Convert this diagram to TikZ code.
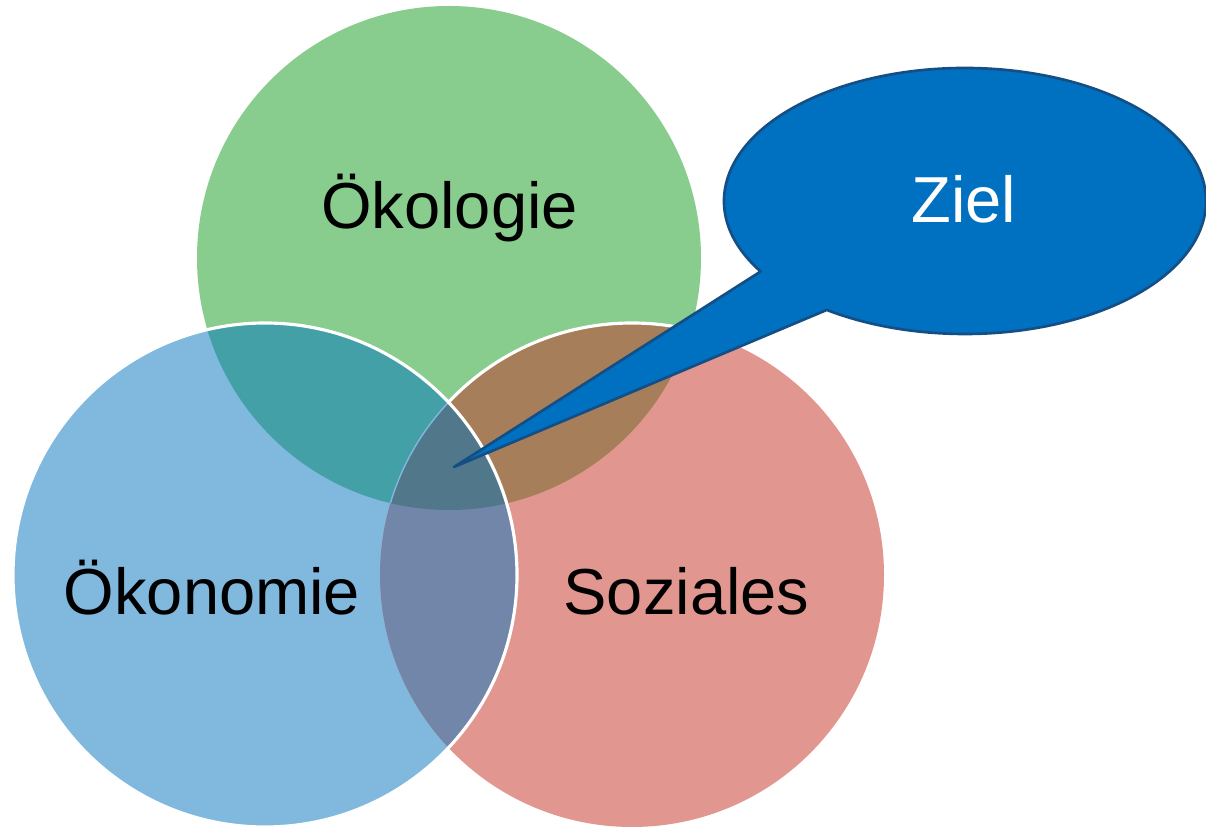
\documentclass[tikz,border=0pt]{standalone}
\usepackage{fontspec}
\setmainfont{Liberation Sans}
\usetikzlibrary{calc}
\definecolor{oekogreen}{RGB}{136,204,142}
\definecolor{oekoblue}{RGB}{128,184,222}
\definecolor{sozred}{RGB}{225,151,143}
\definecolor{greenblue}{RGB}{67,160,166}
\definecolor{greenred}{RGB}{166,127,90}
\definecolor{bluered}{RGB}{113,134,168}
\definecolor{allthree}{RGB}{81,120,138}
\definecolor{zielfill}{RGB}{0,112,192}
\definecolor{zieldraw}{RGB}{20,78,132}
\newcommand{\crad}{5.04}
\begin{document}
\begin{tikzpicture}[font=\fontsize{37}{41}\selectfont, line join=round, line cap=round, rim/.style={draw=white, line width=1.8pt}]
	\path (8.98,11.40) coordinate (G)
	(5.30,5.06) coordinate (B)
	(12.64,5.06) coordinate (R)
	(19.30,12.54) coordinate (Z)
	(9.08,7.22) coordinate (tip);
	\useasboundingbox (0,0) rectangle (24.12,16.56);
	\fill[oekogreen] (G) circle (\crad);
	\fill[oekoblue] (B) circle (\crad);
	\fill[sozred] (R) circle (\crad);
	\begin{scope}
		\clip (G) circle (\crad);
		\fill[greenblue] (B) circle (\crad);
		\fill[greenred] (R) circle (\crad);
	\end{scope}
	\begin{scope}
		\clip (B) circle (\crad);
		\fill[bluered] (R) circle (\crad);
		\clip (G) circle (\crad);
		\fill[allthree] (R) circle (\crad);
		\draw[oekoblue, line width=0.8pt] (R) circle (\crad);
	\end{scope}
	% weisse Raender
	\begin{scope}[even odd rule]
		\clip (G) circle (\crad);
		\clip (B) circle (\crad) (-1,-1) rectangle (25,18);
		\draw[rim] (R) circle (\crad);
	\end{scope}
	\draw[rim] (B) circle (\crad);
	% Sprechblase
	\draw[fill=zielfill, draw=zieldraw, line width=1.5pt] (tip) -- ($(Z)+(212:4.82 and 2.66)$)
	arc[start angle=212, end angle=-125, x radius=4.82, y radius=2.66] -- cycle;
	\node[anchor=base] (oeko) at (8.99,11.99) {Ökologie};
	\node[anchor=base] (oekon) at (4.24,4.26) {Ökonomie};
	\node[anchor=base] (sozial) at (13.73,4.26) {Soziales};
	\node[anchor=base, text=white] (ziel) at (19.28,12.10) {Ziel};
\end{tikzpicture}
\end{document}
